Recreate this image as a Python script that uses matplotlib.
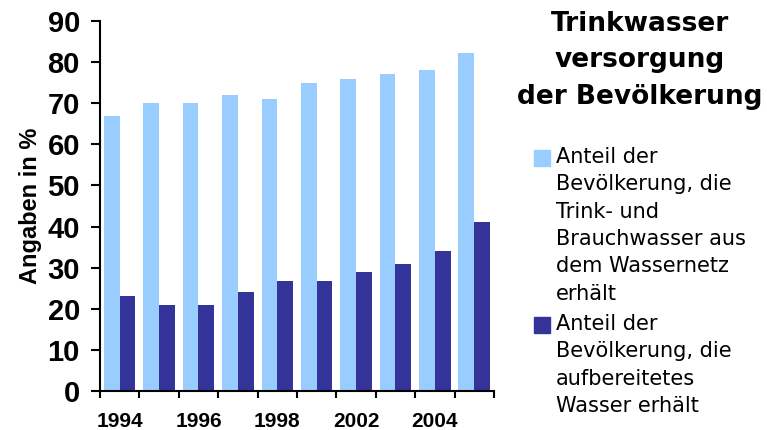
import numpy as np
import matplotlib.pyplot as plt
from matplotlib.patches import Rectangle

# data
years = ['1994', '1995', '1996', '1997', '1998', '2000', '2002', '2003', '2004', '2005']
year_labels = ['1994', '', '1996', '', '1998', '', '2002', '', '2004', '']
netz = [67, 70, 70, 72, 71, 75, 76, 77, 78, 82.3]
aufbereitet = [23, 21, 21, 24, 26.8, 26.8, 29, 31, 34, 41]

legend_labels = ['Anteil der\nBevölkerung, die\nTrink- und\nBrauchwasser aus\ndem Wassernetz\nerhält',
                 'Anteil der\nBevölkerung, die\naufbereitetes\nWasser erhält']
colors = ['#99CCFF', '#333399']

fig = plt.figure(figsize=(7.67, 4.3), dpi=100)
ax = fig.add_axes([0.1304, 0.0907, 0.5136, 0.8605])

x = np.arange(len(years))
w = 0.4
ax.bar(x - w/2, netz, w, color=colors[0])
ax.bar(x + w/2, aufbereitet, w, color=colors[1])

ax.set_xlim(-0.5, len(years) - 0.5)
ax.set_ylim(0, 90)
ax.set_yticks(range(0, 91, 10))

# ticks at group borders, labels at group centers
ax.set_xticks(np.arange(len(years) + 1) - 0.5)
ax.set_xticklabels([])
ax.set_xticks(x, minor=True)
ax.set_xticklabels(year_labels, minor=True, fontsize=15, fontweight='bold', family='Liberation Sans')
ax.tick_params(axis='x', which='minor', length=0, pad=15)
ax.tick_params(axis='x', which='major', length=5, width=1.5)
ax.tick_params(axis='y', length=6.5, width=1.5, pad=8)
for t in ax.get_yticklabels():
    t.set_fontsize(21)
    t.set_fontweight('bold')
    t.set_family('Liberation Sans')

for s in ['top', 'right']:
    ax.spines[s].set_visible(False)
for s in ['left', 'bottom']:
    ax.spines[s].set_linewidth(1.5)

ax.set_ylabel('Angaben in %', fontsize=17, fontweight='bold', family='Liberation Sans', labelpad=4)

# title on the right
fig.text(0.8345, 0.975, 'Trinkwasser\nversorgung\nder Bevölkerung', ha='center', va='top',
         fontsize=19, fontweight='bold', linespacing=1.52)

# legend drawn by hand
sq_w = 16 / 767
sq_h = 16 / 430
tops = [1 - 150 / 430, 1 - 317 / 430]
for lab, c, top in zip(legend_labels, colors, tops):
    fig.patches.append(Rectangle((534 / 767, top - sq_h), sq_w, sq_h, color=c,
                                 transform=fig.transFigure, figure=fig))
    fig.text(556 / 767, top + 3 / 430, lab, ha='left', va='top', fontsize=15, linespacing=1.46)

fig.savefig('out.png', dpi=100)
